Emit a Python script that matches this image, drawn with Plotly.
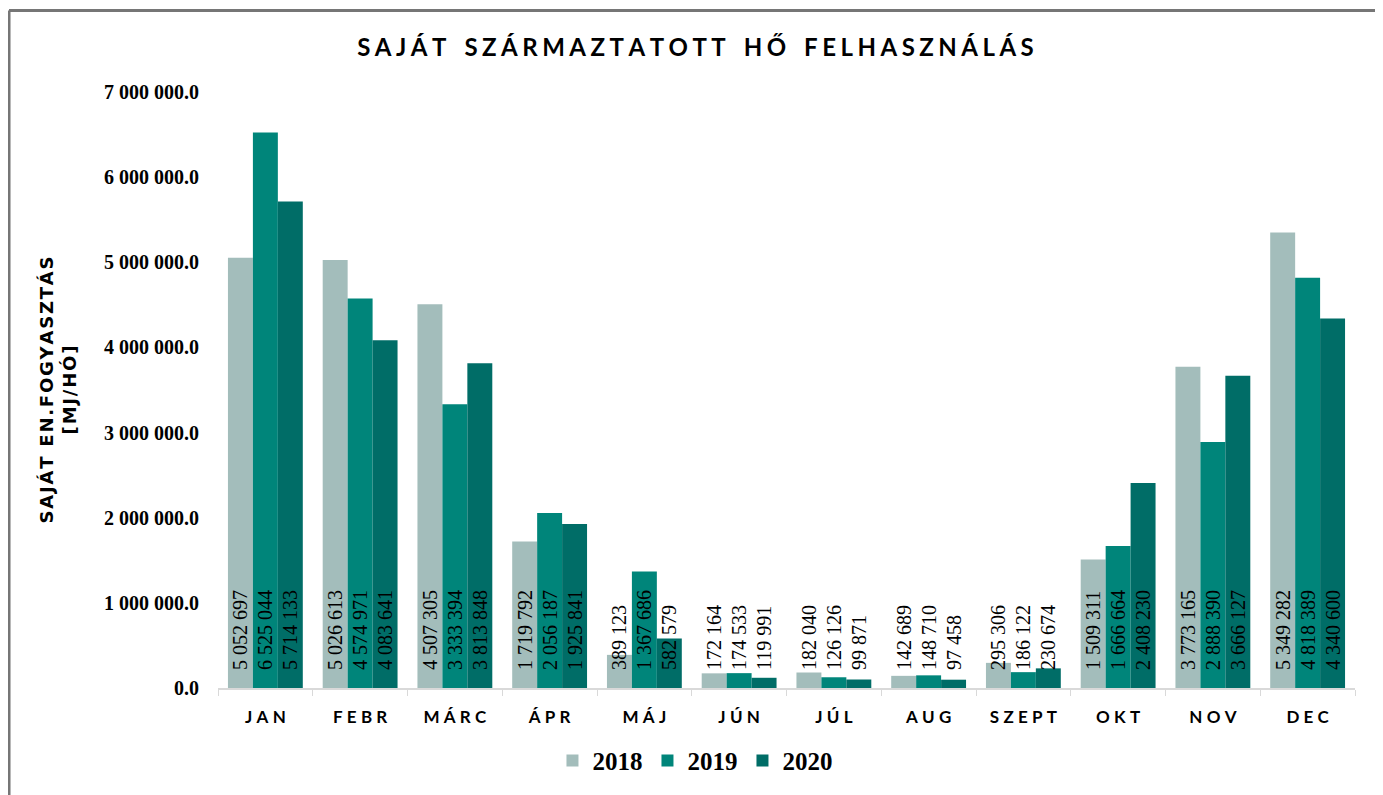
import plotly.graph_objects as go

# monthly own-generated heat use, MJ/month
months = ["JAN", "FEBR", "MÁRC", "ÁPR", "MÁJ", "JÚN", "JÚL", "AUG", "SZEPT", "OKT", "NOV", "DEC"]
years = ["2018", "2019", "2020"]
v2018 = [5052697, 5026613, 4507305, 1719792, 389123, 172164, 182040, 142689, 295306, 1509311, 3773165, 5349282]
v2019 = [6525044, 4574971, 3333394, 2056187, 1367686, 174533, 126126, 148710, 186122, 1666664, 2888390, 4818389]
v2020 = [5714133, 4083641, 3813848, 1925841, 582579, 119991, 99871, 97458, 230674, 2408230, 3666127, 4340600]
colors = ["#A3BDBB", "#00857A", "#006D67"]

ys = [0, 1000000, 2000000, 3000000, 4000000, 5000000, 6000000, 7000000]


def spaced(s, sep="\u2009"):
    return sep.join(s)


fig = go.Figure()
for name, vals, col in zip(years, [v2018, v2019, v2020], colors):
    fig.add_trace(go.Bar(
        x=months, y=vals, name=name, marker=dict(color=col, line=dict(width=0)),
        texttemplate="\u00a0\u00a0\u00a0%{y:,.0f}", textposition="inside", insidetextanchor="start",
        textangle=-90, textfont=dict(family="Liberation Serif", size=20, color="black"),
        constraintext="none",
    ))

# frame lines (only top and left visible in the original)
frame = dict(color="#767676", width=3)
fig.add_shape(type="line", xref="paper", yref="paper", x0=-0.1838, x1=1.05, y0=1.1367, y1=1.1367, line=frame)
fig.add_shape(type="line", xref="paper", yref="paper", x0=-0.1838, x1=-0.1838, y0=1.1367, y1=-0.2, line=frame)

ytitle = "<b>" + spaced("SAJÁT EN.FOGYASZTÁS", "\u200a") + "<br>" + spaced("[MJ/HÓ]", "\u200a") + "</b>"

fig.update_layout(
    width=1375, height=787,
    margin=dict(l=210, r=28, t=84, b=107, autoexpand=False),
    paper_bgcolor="white", plot_bgcolor="white",
    barmode="group", bargap=0.21, bargroupgap=0,
    separators=". ",
    uniformtext=dict(minsize=20, mode="show"),
    title=dict(
        text="<b>" + "\u2003".join(spaced(w, "\u2009\u200a") for w in "SAJÁT SZÁRMAZTATOTT HŐ FELHASZNÁLÁS".split()) + "</b>",
        x=0.5, xref="container", xanchor="center", y=0.95, yanchor="middle",
        font=dict(family="Lato", size=24, color="black"),
    ),
    xaxis=dict(
        tickmode="array", tickvals=months, ticktext=["<b>" + spaced(m, "\u2009\u2009") + "</b>" for m in months],
        tickfont=dict(family="Lato", size=17, color="black"), tickangle=0,
        showline=True, linecolor="#D9D9D9", linewidth=1.5,
        ticks="outside", tickson="boundaries", ticklen=6, tickcolor="#D9D9D9",
        showgrid=False, ticklabelstandoff=13,
    ),
    yaxis=dict(
        range=[0, 7000000], tickvals=ys, tickformat=",.1f",
        tickfont=dict(family="Liberation Serif", size=20, color="black", weight="bold"),
        showgrid=False, zeroline=False, ticks="", ticklabelstandoff=18,
        title=dict(text=ytitle, standoff=22,
                   font=dict(family="DejaVu Sans", size=18, color="black")),
    ),
    legend=dict(
        orientation="h", x=0.4195, xanchor="center", y=-0.122, yanchor="middle",
        font=dict(family="Liberation Serif", size=25, color="black", weight="bold"),
        itemwidth=30,
    ),
)

fig.write_html("out.html")
